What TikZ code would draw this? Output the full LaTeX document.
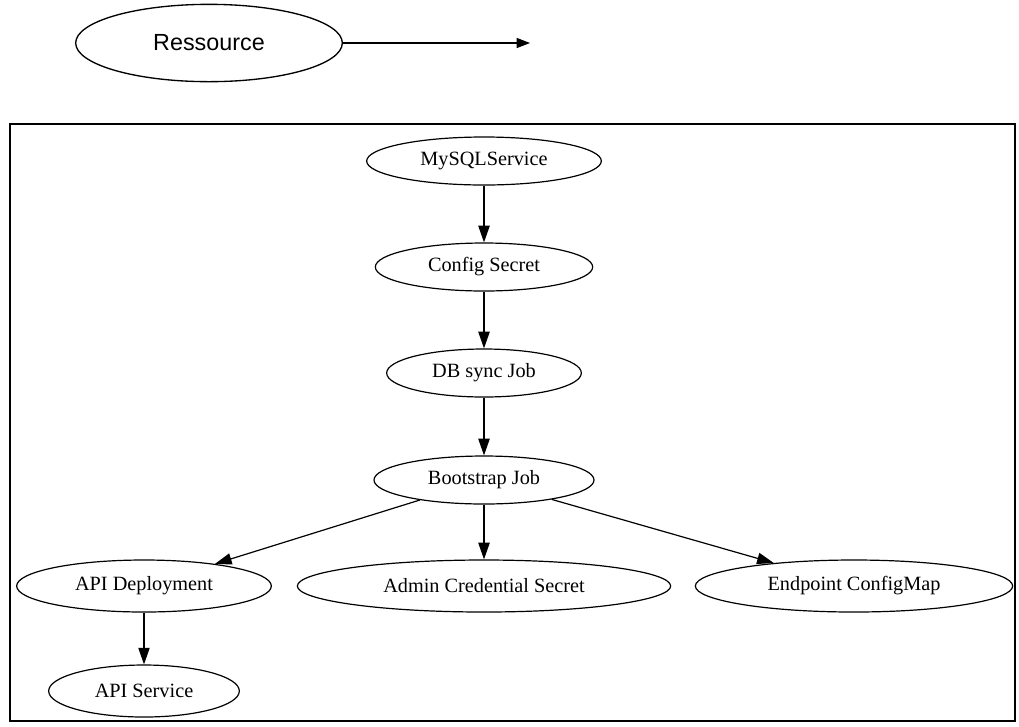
\documentclass[tikz,border=0pt]{standalone}
\usepackage{fontspec}
\setmainfont{Liberation Serif}
\newfontfamily\legendfont{Liberation Sans}
\usetikzlibrary{shapes.geometric,arrows.meta}
\begin{document}
\begin{tikzpicture}[x=0.75pt,y=-0.75pt,
  res/.style={ellipse,draw,line width=0.9pt,inner sep=0pt,
    font=\fontsize{15.2}{18}\selectfont},
  upper/.style={res,minimum height=36pt},
  lower/.style={res,minimum height=39pt},
  link/.style={line width=0.9pt,-{Triangle[length=12.5pt,width=8.5pt]}},
  legendbox/.style={ellipse,draw,line width=1pt,inner sep=0pt,
    minimum width=200pt,minimum height=58pt,
    font=\legendfont\fontsize{17.5}{20}\selectfont}]
\useasboundingbox (0,0) rectangle (1019,726);

% legend
\node[legendbox] (legend) at (209,43) {Ressource};
\coordinate (legendend) at (530,43);
\draw[line width=0.9pt,-{Triangle[length=10pt,width=7.5pt]}] (legend) -- (legendend);

% frame around the dependency graph
\draw[line width=1.2pt] (10,124) rectangle (1015,721);

% resources
\node[upper,minimum width=176pt] (mysql) at (484,161) {MySQLService};
\node[upper,minimum width=163pt] (config) at (484,267) {Config Secret};
\node[upper,minimum width=146pt] (dbsync) at (484,373) {DB sync Job};
\node[upper,minimum width=165pt] (boot) at (484,480) {Bootstrap Job};
\node[lower,minimum width=191pt] (apidep) at (144,586) {API Deployment};
\node[lower,minimum width=280pt] (admin) at (484,586) {Admin Credential Secret};
\node[lower,minimum width=238pt] (endpoint) at (854,586) {Endpoint ConfigMap};
\node[lower,minimum width=143pt] (apisvc) at (144,691) {API Service};

% dependencies
\draw[link] (mysql) -- (config);
\draw[link] (config) -- (dbsync);
\draw[link] (dbsync) -- (boot);
\draw[link] (boot) -- (admin);
\draw[link] (boot) -- (apidep);
\draw[link] (boot) -- (endpoint);
\draw[link] (apidep) -- (apisvc);
\end{tikzpicture}
\end{document}
